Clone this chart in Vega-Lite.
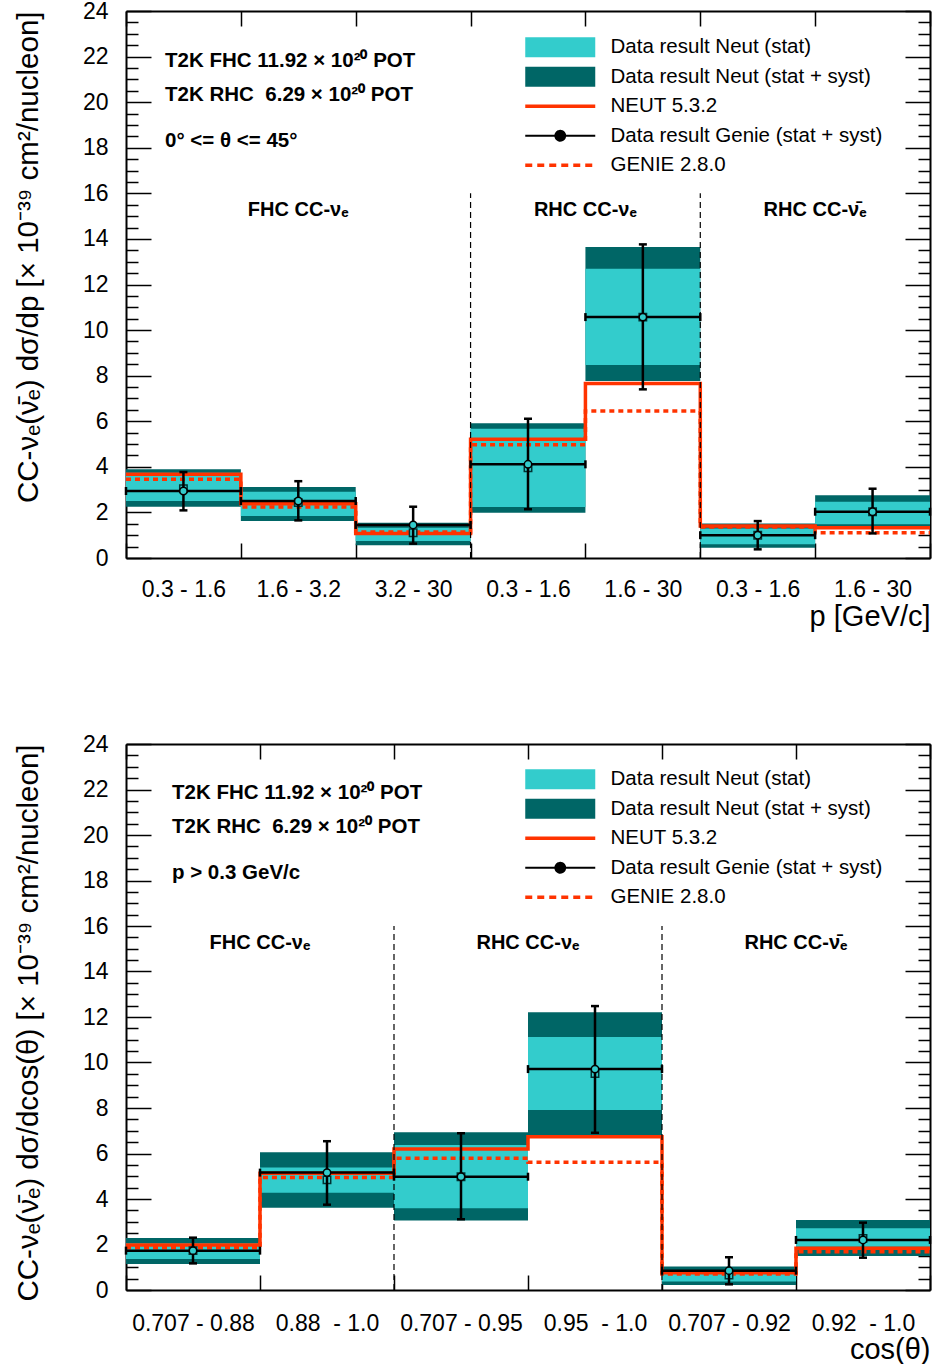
{
  "$schema": "https://vega.github.io/schema/vega-lite/v6.json",
  "padding": {"left": 13, "top": 0, "right": 0, "bottom": 0},
  "background": "white",
  "config": {
    "view": {"stroke": null},
    "font": "Liberation Sans",
    "axis": {"domainColor": "black", "domainWidth": 2, "tickColor": "black", "tickWidth": 1.5, "labelColor": "black", "labelFont": "Liberation Sans", "labelFontSize": 23, "titleColor": "black", "titleFont": "Liberation Sans", "titleFontWeight": "normal", "grid": false, "labelFlush": false, "labelOverlap": false}
  },
  "datasets": {
    "top": [
      {"label": "0.3 - 1.6", "lo": 0, "hi": 1, "mid": 0.5, "systLo": 2.25, "systHi": 3.89, "statLo": 2.5, "statHi": 3.74, "neut": 3.04, "gen": 2.94, "genLo": 2.09, "genHi": 3.77, "mcNeut": 3.67, "mcGenie": 3.45},
      {"label": "1.6 - 3.2", "lo": 1, "hi": 2, "mid": 1.5, "systLo": 1.62, "systHi": 3.12, "statLo": 1.84, "statHi": 2.91, "neut": 2.43, "gen": 2.5, "genLo": 1.65, "genHi": 3.37, "mcNeut": 2.38, "mcGenie": 2.24},
      {"label": "3.2 - 30", "lo": 2, "hi": 3, "mid": 2.5, "systLo": 0.56, "systHi": 1.55, "statLo": 0.75, "statHi": 1.33, "neut": 1.11, "gen": 1.45, "genLo": 0.63, "genHi": 2.25, "mcNeut": 1.08, "mcGenie": 1.14},
      {"label": "0.3 - 1.6", "lo": 3, "hi": 4, "mid": 3.5, "systLo": 1.99, "systHi": 5.91, "statLo": 2.24, "statHi": 5.67, "neut": 3.96, "gen": 4.11, "genLo": 2.14, "genHi": 6.11, "mcNeut": 5.21, "mcGenie": 4.97},
      {"label": "1.6 - 30", "lo": 4, "hi": 5, "mid": 4.5, "systLo": 7.77, "systHi": 13.65, "statLo": 8.47, "statHi": 12.69, "neut": 10.57, "gen": 10.57, "genLo": 7.4, "genHi": 13.76, "mcNeut": 7.66, "mcGenie": 6.45},
      {"label": "0.3 - 1.6", "lo": 5, "hi": 6, "mid": 5.5, "systLo": 0.45, "systHi": 1.51, "statLo": 0.6, "statHi": 1.29, "neut": 1.0, "gen": 1.0, "genLo": 0.38, "genHi": 1.62, "mcNeut": 1.4, "mcGenie": 1.36},
      {"label": "1.6 - 30", "lo": 6, "hi": 7, "mid": 6.5, "systLo": 1.29, "systHi": 2.75, "statLo": 1.48, "statHi": 2.47, "neut": 2.03, "gen": 2.03, "genLo": 1.08, "genHi": 3.04, "mcNeut": 1.33, "mcGenie": 1.11}
    ],
    "bottom": [
      {"label": "0.707 - 0.88", "lo": 0, "hi": 1, "mid": 0.5, "systLo": 1.14, "systHi": 2.29, "statLo": 1.36, "statHi": 2.05, "neut": 1.73, "gen": 1.73, "genLo": 1.17, "genHi": 2.3, "mcNeut": 1.98, "mcGenie": 1.86},
      {"label": "0.88  - 1.0", "lo": 1, "hi": 2, "mid": 1.5, "systLo": 3.62, "systHi": 6.05, "statLo": 4.28, "statHi": 5.39, "neut": 4.84, "gen": 5.16, "genLo": 3.75, "genHi": 6.54, "mcNeut": 5.13, "mcGenie": 4.94},
      {"label": "0.707 - 0.95", "lo": 2, "hi": 3, "mid": 2.5, "systLo": 3.05, "systHi": 6.93, "statLo": 3.59, "statHi": 6.37, "neut": 4.98, "gen": 4.98, "genLo": 3.11, "genHi": 6.89, "mcNeut": 6.2, "mcGenie": 5.79},
      {"label": "0.95  - 1.0", "lo": 3, "hi": 4, "mid": 3.5, "systLo": 6.81, "systHi": 12.21, "statLo": 7.91, "statHi": 11.12, "neut": 9.52, "gen": 9.71, "genLo": 6.91, "genHi": 12.48, "mcNeut": 6.74, "mcGenie": 5.61},
      {"label": "0.707 - 0.92", "lo": 4, "hi": 5, "mid": 4.5, "systLo": 0.22, "systHi": 1.03, "statLo": 0.37, "statHi": 0.88, "neut": 0.66, "gen": 0.85, "genLo": 0.25, "genHi": 1.44, "mcNeut": 0.76, "mcGenie": 0.7},
      {"label": "0.92  - 1.0", "lo": 5, "hi": 6, "mid": 5.5, "systLo": 1.49, "systHi": 3.08, "statLo": 1.9, "statHi": 2.71, "neut": 2.27, "gen": 2.2, "genLo": 1.42, "genHi": 2.96, "mcNeut": 1.83, "mcGenie": 1.68}
    ],
    "topGroups": [
      {"group": "FHC CC-νₑ", "center": 1.5},
      {"group": "RHC CC-νₑ", "center": 4.0},
      {"group": "RHC CC-ν̄ₑ", "center": 6.0}
    ],
    "topSep": [{"edge": 3}, {"edge": 5}],
    "bottomGroups": [
      {"group": "FHC CC-νₑ", "center": 1.0},
      {"group": "RHC CC-νₑ", "center": 3.0},
      {"group": "RHC CC-ν̄ₑ", "center": 5.0}
    ],
    "bottomSep": [{"edge": 2}, {"edge": 4}],
    "one": [{}]
  },
  "resolve": {"scale": {"color": "independent"}, "legend": {"color": "independent"}},
  "spacing": 102,
  "vconcat": [
    {
      "width": 804,
      "height": 547,
      "data": {"name": "top"},
      "resolve": {"axis": {"x": "independent", "y": "independent"}},
      "layer": [
        {
          "mark": {"type": "rect"},
          "encoding": {
            "x": {"field": "lo", "type": "quantitative", "scale": {"domain": [0, 7], "nice": false, "zero": false}, "axis": {"orient": "bottom", "values": [0, 1, 2, 3, 4, 5, 6, 7], "tickSize": -15, "labels": false, "domain": true, "title": null}},
            "x2": {"field": "hi"},
            "y": {"field": "systLo", "type": "quantitative", "scale": {"domain": [0, 24], "nice": false, "zero": false}, "axis": {"orient": "left", "values": [0, 2, 4, 6, 8, 10, 12, 14, 16, 18, 20, 22, 24], "tickSize": -25, "labelPadding": 43, "domain": true, "title": "CC-νₑ(ν̄ₑ) dσ/dp [× 10⁻³⁹ cm²/nucleon]", "titleFontSize": 29.5, "titleAnchor": "end", "titlePadding": 39}},
            "y2": {"field": "systHi"},
            "color": {
              "datum": "Data result Neut (stat + syst)", "type": "nominal",
              "scale": {"domain": ["Data result Neut (stat)", "Data result Neut (stat + syst)", "NEUT 5.3.2", "Data result Genie (stat + syst)", "GENIE 2.8.0"], "range": ["#33cccc", "#006666", "#ff3300", "#000000", "#ff3300"]},
              "legend": {
                "title": null, "orient": "none", "legendX": 399, "legendY": 26, "padding": 0,
                "labelFont": "Liberation Sans", "labelFontSize": 20.5, "labelColor": "black", "labelLimit": 500,
                "symbolSize": 400, "symbolOffset": 25, "labelOffset": 40, "rowPadding": 8.5,
                "encode": {"symbols": {"update": {
                  "shape": {"signal": "datum.index < 2 ? 'M-3.5,-1H3.5V1H-3.5Z' : datum.index == 3 ? 'M-3.5,0H-0.5M0.5,0H3.5M0.5,0A0.5,0.5,0,1,1,-0.5,0A0.5,0.5,0,1,1,0.5,0Z' : 'M-3.5,0H3.5'"},
                  "fill": {"signal": "datum.index == 0 ? '#33cccc' : datum.index == 1 ? '#006666' : datum.index == 3 ? 'white' : 'transparent'"},
                  "fillOpacity": {"value": 1},
                  "stroke": {"signal": "datum.index < 2 ? 'transparent' : datum.index == 3 ? '#000000' : '#ff3300'"},
                  "strokeWidth": {"signal": "datum.index < 2 ? 0 : datum.index == 3 ? 1.8 : 3.5"},
                  "strokeDash": {"signal": "datum.index == 4 ? [7, 5] : [1, 0]"},
                  "opacity": {"value": 1}
                }}}
              }
            }
          }
        },
        {
          "mark": {"type": "rect", "color": "#33cccc"},
          "encoding": {
            "x": {"field": "lo", "type": "quantitative", "axis": {"orient": "bottom", "values": [0.5, 1.5, 2.5, 3.5, 4.5, 5.5, 6.5], "ticks": false, "domain": false, "labelPadding": 20, "labelExpr": "['0.3 - 1.6','1.6 - 3.2','3.2 - 30','0.3 - 1.6','1.6 - 30','0.3 - 1.6','1.6 - 30'][floor(datum.value)]", "title": "p [GeV/c]", "titleFontSize": 29, "titleAnchor": "end", "titlePadding": 1}},
            "x2": {"field": "hi"},
            "y": {"field": "statLo", "type": "quantitative", "axis": {"orient": "left", "values": [0.5, 1, 1.5, 2.5, 3, 3.5, 4.5, 5, 5.5, 6.5, 7, 7.5, 8.5, 9, 9.5, 10.5, 11, 11.5, 12.5, 13, 13.5, 14.5, 15, 15.5, 16.5, 17, 17.5, 18.5, 19, 19.5, 20.5, 21, 21.5, 22.5, 23, 23.5], "tickSize": -12, "labels": false, "domain": false, "title": null}},
            "y2": {"field": "statHi"}
          }
        },
        {
          "transform": [{"fold": ["lo", "hi"], "as": ["edge", "xv"]}],
          "mark": {"type": "line", "color": "#ff3300", "strokeWidth": 3.5},
          "encoding": {
            "x": {"field": "xv", "type": "quantitative", "axis": {"orient": "top", "values": [0, 1, 2, 3, 4, 5, 6, 7], "tickSize": -15, "labels": false, "domain": true, "title": null}},
            "y": {"field": "mcNeut", "type": "quantitative", "axis": {"orient": "right", "values": [0, 2, 4, 6, 8, 10, 12, 14, 16, 18, 20, 22, 24], "tickSize": -25, "labels": false, "domain": true, "title": null}},
            "order": {"value": null}
          }
        },
        {
          "transform": [{"fold": ["lo", "hi"], "as": ["edge", "xv"]}],
          "mark": {"type": "line", "color": "#ff3300", "strokeWidth": 3.5, "strokeDash": [5, 4]},
          "encoding": {
            "x": {"field": "xv", "type": "quantitative", "axis": null},
            "y": {"field": "mcGenie", "type": "quantitative", "axis": {"orient": "right", "values": [0.5, 1, 1.5, 2.5, 3, 3.5, 4.5, 5, 5.5, 6.5, 7, 7.5, 8.5, 9, 9.5, 10.5, 11, 11.5, 12.5, 13, 13.5, 14.5, 15, 15.5, 16.5, 17, 17.5, 18.5, 19, 19.5, 20.5, 21, 21.5, 22.5, 23, 23.5], "tickSize": -12, "labels": false, "domain": false, "title": null}},
            "order": {"value": null}
          }
        },
        {
          "mark": {"type": "point", "shape": "square", "size": 55, "filled": true, "fill": "#33cccc", "stroke": "#003333", "strokeWidth": 1.5, "opacity": 1},
          "encoding": {"x": {"field": "mid", "type": "quantitative", "axis": null}, "y": {"field": "neut", "type": "quantitative", "axis": null}}
        },
        {
          "mark": {"type": "rule", "color": "black", "strokeWidth": 2.5},
          "encoding": {"x": {"field": "lo", "type": "quantitative", "axis": null}, "x2": {"field": "hi"}, "y": {"field": "gen", "type": "quantitative", "axis": null}}
        },
        {
          "mark": {"type": "rule", "color": "black", "strokeWidth": 2.5},
          "encoding": {"x": {"field": "mid", "type": "quantitative", "axis": null}, "y": {"field": "genLo", "type": "quantitative", "axis": null}, "y2": {"field": "genHi"}}
        },
        {
          "mark": {"type": "tick", "orient": "horizontal", "size": 8, "thickness": 2.5, "color": "black", "opacity": 1},
          "encoding": {"x": {"field": "mid", "type": "quantitative", "axis": null}, "y": {"field": "genLo", "type": "quantitative", "axis": null}}
        },
        {
          "mark": {"type": "tick", "orient": "horizontal", "size": 8, "thickness": 2.5, "color": "black", "opacity": 1},
          "encoding": {"x": {"field": "mid", "type": "quantitative", "axis": null}, "y": {"field": "genHi", "type": "quantitative", "axis": null}}
        },
        {
          "mark": {"type": "tick", "orient": "vertical", "size": 8, "thickness": 2.5, "color": "black", "opacity": 1},
          "encoding": {"x": {"field": "lo", "type": "quantitative", "axis": null}, "y": {"field": "gen", "type": "quantitative", "axis": null}}
        },
        {
          "mark": {"type": "tick", "orient": "vertical", "size": 8, "thickness": 2.5, "color": "black", "opacity": 1},
          "encoding": {"x": {"field": "hi", "type": "quantitative", "axis": null}, "y": {"field": "gen", "type": "quantitative", "axis": null}}
        },
        {
          "mark": {"type": "point", "shape": "circle", "size": 55, "filled": true, "fill": "#33cccc", "stroke": "black", "strokeWidth": 1.5, "opacity": 1},
          "encoding": {"x": {"field": "mid", "type": "quantitative", "axis": null}, "y": {"field": "gen", "type": "quantitative", "axis": null}}
        },
        {
          "data": {"name": "topSep"},
          "mark": {"type": "rule", "color": "black", "strokeWidth": 1.2, "strokeDash": [6, 4]},
          "encoding": {"x": {"field": "edge", "type": "quantitative", "axis": null}, "y": {"datum": 0, "type": "quantitative", "axis": null}, "y2": {"datum": 16}}
        },
        {
          "data": {"name": "topGroups"},
          "mark": {"type": "text", "fontSize": 20, "fontWeight": "bold", "align": "center", "baseline": "alphabetic", "color": "black"},
          "encoding": {"x": {"field": "center", "type": "quantitative", "axis": null}, "y": {"datum": 15.0, "type": "quantitative", "axis": null}, "text": {"field": "group"}}
        },
        {
          "data": {"name": "one"},
          "mark": {"type": "text", "fontSize": 20.5, "fontWeight": "bold", "align": "left", "baseline": "alphabetic", "color": "black"},
          "encoding": {"x": {"datum": 0.34, "type": "quantitative", "axis": null}, "y": {"datum": 21.55, "type": "quantitative", "axis": null}, "text": {"value": "T2K FHC 11.92 × 10²⁰ POT"}}
        },
        {
          "data": {"name": "one"},
          "mark": {"type": "text", "fontSize": 20.5, "fontWeight": "bold", "align": "left", "baseline": "alphabetic", "color": "black"},
          "encoding": {"x": {"datum": 0.34, "type": "quantitative", "axis": null}, "y": {"datum": 20.05, "type": "quantitative", "axis": null}, "text": {"value": "T2K RHC\u00a0 6.29 × 10²⁰ POT"}}
        },
        {
          "data": {"name": "one"},
          "mark": {"type": "text", "fontSize": 20.5, "fontWeight": "bold", "align": "left", "baseline": "alphabetic", "color": "black"},
          "encoding": {"x": {"datum": 0.34, "type": "quantitative", "axis": null}, "y": {"datum": 18.03, "type": "quantitative", "axis": null}, "text": {"value": "0° <= θ <= 45°"}}
        }
      ]
    },
    {
      "width": 804,
      "height": 546,
      "data": {"name": "bottom"},
      "resolve": {"axis": {"x": "independent", "y": "independent"}},
      "layer": [
        {
          "mark": {"type": "rect"},
          "encoding": {
            "x": {"field": "lo", "type": "quantitative", "scale": {"domain": [0, 6], "nice": false, "zero": false}, "axis": {"orient": "bottom", "values": [0, 1, 2, 3, 4, 5, 6], "tickSize": -15, "labels": false, "domain": true, "title": null}},
            "x2": {"field": "hi"},
            "y": {"field": "systLo", "type": "quantitative", "scale": {"domain": [0, 24], "nice": false, "zero": false}, "axis": {"orient": "left", "values": [0, 2, 4, 6, 8, 10, 12, 14, 16, 18, 20, 22, 24], "tickSize": -25, "labelPadding": 43, "domain": true, "title": "CC-νₑ(ν̄ₑ) dσ/dcos(θ) [× 10⁻³⁹ cm²/nucleon]", "titleFontSize": 29.5, "titleAnchor": "end", "titlePadding": 39}},
            "y2": {"field": "systHi"},
            "color": {
              "datum": "Data result Neut (stat + syst)", "type": "nominal",
              "scale": {"domain": ["Data result Neut (stat)", "Data result Neut (stat + syst)", "NEUT 5.3.2", "Data result Genie (stat + syst)", "GENIE 2.8.0"], "range": ["#33cccc", "#006666", "#ff3300", "#000000", "#ff3300"]},
              "legend": {
                "title": null, "orient": "none", "legendX": 399, "legendY": 25, "padding": 0,
                "labelFont": "Liberation Sans", "labelFontSize": 20.5, "labelColor": "black", "labelLimit": 500,
                "symbolSize": 400, "symbolOffset": 25, "labelOffset": 40, "rowPadding": 8.5,
                "encode": {"symbols": {"update": {
                  "shape": {"signal": "datum.index < 2 ? 'M-3.5,-1H3.5V1H-3.5Z' : datum.index == 3 ? 'M-3.5,0H-0.5M0.5,0H3.5M0.5,0A0.5,0.5,0,1,1,-0.5,0A0.5,0.5,0,1,1,0.5,0Z' : 'M-3.5,0H3.5'"},
                  "fill": {"signal": "datum.index == 0 ? '#33cccc' : datum.index == 1 ? '#006666' : datum.index == 3 ? 'white' : 'transparent'"},
                  "fillOpacity": {"value": 1},
                  "stroke": {"signal": "datum.index < 2 ? 'transparent' : datum.index == 3 ? '#000000' : '#ff3300'"},
                  "strokeWidth": {"signal": "datum.index < 2 ? 0 : datum.index == 3 ? 1.8 : 3.5"},
                  "strokeDash": {"signal": "datum.index == 4 ? [7, 5] : [1, 0]"},
                  "opacity": {"value": 1}
                }}}
              }
            }
          }
        },
        {
          "mark": {"type": "rect", "color": "#33cccc"},
          "encoding": {
            "x": {"field": "lo", "type": "quantitative", "axis": {"orient": "bottom", "values": [0.5, 1.5, 2.5, 3.5, 4.5, 5.5], "ticks": false, "domain": false, "labelPadding": 22, "labelExpr": "['0.707 - 0.88','0.88\u00a0 - 1.0','0.707 - 0.95','0.95\u00a0 - 1.0','0.707 - 0.92','0.92\u00a0 - 1.0'][floor(datum.value)]", "title": "cos(θ)", "titleFontSize": 29, "titleAnchor": "end", "titlePadding": 0}},
            "x2": {"field": "hi"},
            "y": {"field": "statLo", "type": "quantitative", "axis": {"orient": "left", "values": [0.5, 1, 1.5, 2.5, 3, 3.5, 4.5, 5, 5.5, 6.5, 7, 7.5, 8.5, 9, 9.5, 10.5, 11, 11.5, 12.5, 13, 13.5, 14.5, 15, 15.5, 16.5, 17, 17.5, 18.5, 19, 19.5, 20.5, 21, 21.5, 22.5, 23, 23.5], "tickSize": -12, "labels": false, "domain": false, "title": null}},
            "y2": {"field": "statHi"}
          }
        },
        {
          "transform": [{"fold": ["lo", "hi"], "as": ["edge", "xv"]}],
          "mark": {"type": "line", "color": "#ff3300", "strokeWidth": 3.5},
          "encoding": {
            "x": {"field": "xv", "type": "quantitative", "axis": {"orient": "top", "values": [0, 1, 2, 3, 4, 5, 6], "tickSize": -15, "labels": false, "domain": true, "title": null}},
            "y": {"field": "mcNeut", "type": "quantitative", "axis": {"orient": "right", "values": [0, 2, 4, 6, 8, 10, 12, 14, 16, 18, 20, 22, 24], "tickSize": -25, "labels": false, "domain": true, "title": null}},
            "order": {"value": null}
          }
        },
        {
          "transform": [{"fold": ["lo", "hi"], "as": ["edge", "xv"]}],
          "mark": {"type": "line", "color": "#ff3300", "strokeWidth": 3.5, "strokeDash": [5, 4]},
          "encoding": {
            "x": {"field": "xv", "type": "quantitative", "axis": null},
            "y": {"field": "mcGenie", "type": "quantitative", "axis": {"orient": "right", "values": [0.5, 1, 1.5, 2.5, 3, 3.5, 4.5, 5, 5.5, 6.5, 7, 7.5, 8.5, 9, 9.5, 10.5, 11, 11.5, 12.5, 13, 13.5, 14.5, 15, 15.5, 16.5, 17, 17.5, 18.5, 19, 19.5, 20.5, 21, 21.5, 22.5, 23, 23.5], "tickSize": -12, "labels": false, "domain": false, "title": null}},
            "order": {"value": null}
          }
        },
        {
          "mark": {"type": "point", "shape": "square", "size": 55, "filled": true, "fill": "#33cccc", "stroke": "#003333", "strokeWidth": 1.5, "opacity": 1},
          "encoding": {"x": {"field": "mid", "type": "quantitative", "axis": null}, "y": {"field": "neut", "type": "quantitative", "axis": null}}
        },
        {
          "mark": {"type": "rule", "color": "black", "strokeWidth": 2.5},
          "encoding": {"x": {"field": "lo", "type": "quantitative", "axis": null}, "x2": {"field": "hi"}, "y": {"field": "gen", "type": "quantitative", "axis": null}}
        },
        {
          "mark": {"type": "rule", "color": "black", "strokeWidth": 2.5},
          "encoding": {"x": {"field": "mid", "type": "quantitative", "axis": null}, "y": {"field": "genLo", "type": "quantitative", "axis": null}, "y2": {"field": "genHi"}}
        },
        {
          "mark": {"type": "tick", "orient": "horizontal", "size": 8, "thickness": 2.5, "color": "black", "opacity": 1},
          "encoding": {"x": {"field": "mid", "type": "quantitative", "axis": null}, "y": {"field": "genLo", "type": "quantitative", "axis": null}}
        },
        {
          "mark": {"type": "tick", "orient": "horizontal", "size": 8, "thickness": 2.5, "color": "black", "opacity": 1},
          "encoding": {"x": {"field": "mid", "type": "quantitative", "axis": null}, "y": {"field": "genHi", "type": "quantitative", "axis": null}}
        },
        {
          "mark": {"type": "tick", "orient": "vertical", "size": 8, "thickness": 2.5, "color": "black", "opacity": 1},
          "encoding": {"x": {"field": "lo", "type": "quantitative", "axis": null}, "y": {"field": "gen", "type": "quantitative", "axis": null}}
        },
        {
          "mark": {"type": "tick", "orient": "vertical", "size": 8, "thickness": 2.5, "color": "black", "opacity": 1},
          "encoding": {"x": {"field": "hi", "type": "quantitative", "axis": null}, "y": {"field": "gen", "type": "quantitative", "axis": null}}
        },
        {
          "mark": {"type": "point", "shape": "circle", "size": 55, "filled": true, "fill": "#33cccc", "stroke": "black", "strokeWidth": 1.5, "opacity": 1},
          "encoding": {"x": {"field": "mid", "type": "quantitative", "axis": null}, "y": {"field": "gen", "type": "quantitative", "axis": null}}
        },
        {
          "data": {"name": "bottomSep"},
          "mark": {"type": "rule", "color": "black", "strokeWidth": 1.2, "strokeDash": [6, 4]},
          "encoding": {"x": {"field": "edge", "type": "quantitative", "axis": null}, "y": {"datum": 0, "type": "quantitative", "axis": null}, "y2": {"datum": 16}}
        },
        {
          "data": {"name": "bottomGroups"},
          "mark": {"type": "text", "fontSize": 20, "fontWeight": "bold", "align": "center", "baseline": "alphabetic", "color": "black"},
          "encoding": {"x": {"field": "center", "type": "quantitative", "axis": null}, "y": {"datum": 15.0, "type": "quantitative", "axis": null}, "text": {"field": "group"}}
        },
        {
          "data": {"name": "one"},
          "mark": {"type": "text", "fontSize": 20.5, "fontWeight": "bold", "align": "left", "baseline": "alphabetic", "color": "black"},
          "encoding": {"x": {"datum": 0.343, "type": "quantitative", "axis": null}, "y": {"datum": 21.58, "type": "quantitative", "axis": null}, "text": {"value": "T2K FHC 11.92 × 10²⁰ POT"}}
        },
        {
          "data": {"name": "one"},
          "mark": {"type": "text", "fontSize": 20.5, "fontWeight": "bold", "align": "left", "baseline": "alphabetic", "color": "black"},
          "encoding": {"x": {"datum": 0.343, "type": "quantitative", "axis": null}, "y": {"datum": 20.09, "type": "quantitative", "axis": null}, "text": {"value": "T2K RHC\u00a0 6.29 × 10²⁰ POT"}}
        },
        {
          "data": {"name": "one"},
          "mark": {"type": "text", "fontSize": 20.5, "fontWeight": "bold", "align": "left", "baseline": "alphabetic", "color": "black"},
          "encoding": {"x": {"datum": 0.343, "type": "quantitative", "axis": null}, "y": {"datum": 18.07, "type": "quantitative", "axis": null}, "text": {"value": "p > 0.3 GeV/c"}}
        }
      ]
    }
  ]
}
